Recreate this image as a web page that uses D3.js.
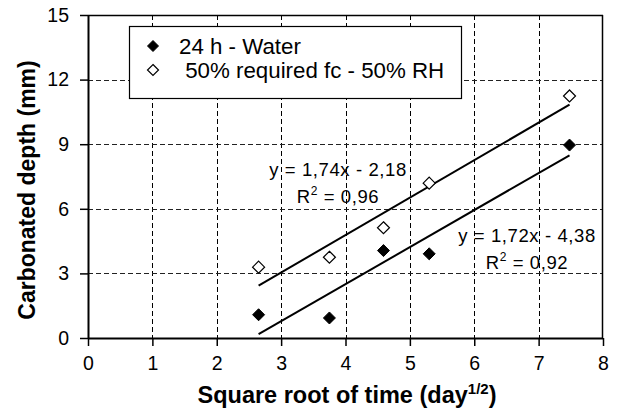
<!DOCTYPE html>
<html>
<head>
<meta charset="utf-8">
<script src="https://cdn.jsdelivr.net/npm/d3@7"></script>
<style>
  html, body { margin: 0; padding: 0; background: #fff; }
  svg { display: block; }
  text { font-family: "Liberation Sans", Arial, sans-serif; fill: #000; }
</style>
</head>
<body>
<svg id="chart" width="621" height="409"></svg>
<script>
// ---- data ----
const xTickValues = [0, 1, 2, 3, 4, 5, 6, 7, 8];
const yTickValues = [0, 3, 6, 9, 12, 15];
const sqrtTime = [2.65, 3.75, 4.59, 5.30, 7.48];
const depthWater = [1.08, 0.93, 4.06, 3.91, 8.96];
const depthRH = [3.29, 3.75, 5.12, 7.19, 11.24];
const seriesNames = ["24 h - Water", " 50% required fc - 50% RH"];
const trendSlopes = [1.72, 1.74];
const trendIntercepts = [-4.38, -2.18];
const eqLabels = ["y = 1,72x - 4,38", "y = 1,74x - 2,18"];
const r2Labels = ["0,92", "0,96"];
const xTitle = "Square root of time (day";
const xTitleSup = "1/2";
const yTitle = "Carbonated depth (mm)";

// ---- layout ----
const pLeft = 88, pRight = 603, pTop = 15, pBottom = 338;
const svg = d3.select("#chart");

const x = d3.scaleLinear().domain([0, 8]).range([pLeft, pRight]);
const y = d3.scaleLinear().domain([0, 15]).range([pBottom, pTop]);

// gridlines
const grid = svg.append("g");
grid.selectAll("line.v").data(xTickValues.filter(d => d > 0 && d < 8)).join("line")
  .attr("x1", d => Math.round(x(d)) + 0.5).attr("x2", d => Math.round(x(d)) + 0.5)
  .attr("y1", pTop).attr("y2", pBottom)
  .attr("stroke", "#000").attr("stroke-width", 1).attr("stroke-dasharray", "5,3");
grid.selectAll("line.h").data(yTickValues.filter(d => d > 0 && d < 15)).join("line")
  .attr("x1", pLeft).attr("x2", pRight)
  .attr("y1", d => Math.round(y(d)) + 0.5).attr("y2", d => Math.round(y(d)) + 0.5)
  .attr("stroke", "#222").attr("stroke-width", 1).attr("stroke-dasharray", "5,3");

// frame (top and right)
svg.append("line").attr("x1", pLeft).attr("x2", pRight).attr("y1", pTop + 0.5).attr("y2", pTop + 0.5)
  .attr("stroke", "#000").attr("stroke-width", 1.5);
svg.append("line").attr("x1", pRight - 0.5).attr("x2", pRight - 0.5).attr("y1", pTop).attr("y2", pBottom)
  .attr("stroke", "#000").attr("stroke-width", 1.5);

// axes
const xAxis = d3.axisBottom(x).tickValues(xTickValues).tickSize(8).tickPadding(10)
  .tickFormat(d3.format("d"));
const gx = svg.append("g").attr("transform", `translate(0,${pBottom})`).call(xAxis);
gx.select(".domain").attr("stroke", "#000").attr("stroke-width", 2).attr("d", `M${pLeft},0.5H${pRight}`);
gx.selectAll(".tick line").attr("stroke", "#000").attr("stroke-width", 1.5);
gx.selectAll(".tick text").attr("font-size", 19.5).attr("font-family", "Liberation Sans, Arial").attr("fill", "#000");

const yAxis = d3.axisLeft(y).tickValues(yTickValues).tickSize(8).tickPadding(11)
  .tickFormat(d3.format("d"));
const gy = svg.append("g").attr("transform", `translate(${pLeft},0)`).call(yAxis);
gy.select(".domain").attr("stroke", "#000").attr("stroke-width", 2).attr("d", `M0.5,${pTop}V${pBottom}`);
gy.selectAll(".tick line").attr("stroke", "#000").attr("stroke-width", 1.5);
gy.selectAll(".tick text").attr("font-size", 19.5).attr("font-family", "Liberation Sans, Arial").attr("fill", "#000");

// trendlines
const allSeries = [depthWater, depthRH];
const xExt = d3.extent(sqrtTime);
allSeries.forEach((s, i) => {
  const pts = xExt.map(v => [v, trendSlopes[i] * v + trendIntercepts[i]]);
  svg.append("path")
    .attr("d", d3.line().x(d => x(d[0])).y(d => y(d[1]))(pts))
    .attr("stroke", "#000").attr("stroke-width", 2).attr("fill", "none");
});

// diamond symbol
const diamond = {
  draw(ctx, size) {
    const r = Math.sqrt(size / 2);
    ctx.moveTo(0, -r); ctx.lineTo(r, 0); ctx.lineTo(0, r); ctx.lineTo(-r, 0); ctx.closePath();
  }
};
const sym = d3.symbol().type(diamond).size(2 * 6 * 6);

svg.append("g").selectAll("path").data(sqrtTime.map((t, i) => [t, depthRH[i]])).join("path")
  .attr("d", sym).attr("transform", d => `translate(${x(d[0])},${y(d[1])})`)
  .attr("fill", "#fff").attr("stroke", "#000").attr("stroke-width", 1.2);
svg.append("g").selectAll("path").data(sqrtTime.map((t, i) => [t, depthWater[i]])).join("path")
  .attr("d", sym).attr("transform", d => `translate(${x(d[0])},${y(d[1])})`)
  .attr("fill", "#000").attr("stroke", "#000").attr("stroke-width", 1);

// equation labels
const eqPos = [[527, 242], [338, 176]];
eqLabels.forEach((lab, i) => {
  svg.append("text").attr("x", eqPos[i][0]).attr("y", eqPos[i][1])
    .attr("text-anchor", "middle").attr("font-size", 18.5).attr("letter-spacing", 0.6)
    .text(lab);
  const t = svg.append("text").attr("x", eqPos[i][0]).attr("y", eqPos[i][1] + 27)
    .attr("text-anchor", "middle").attr("font-size", 18.5).attr("letter-spacing", 0.6);
  t.append("tspan").text("R");
  t.append("tspan").attr("font-size", 12).attr("dy", -8).text("2");
  t.append("tspan").attr("dy", 8).text(" = " + r2Labels[i]);
});

// legend
const lg = svg.append("g");
lg.append("rect").attr("x", 129.5).attr("y", 26.5).attr("width", 332).attr("height", 72)
  .attr("fill", "#fff").attr("stroke", "#000").attr("stroke-width", 1.2);
const legSym = d3.symbol().type(diamond).size(2 * 5.5 * 5.5);
const legY = [46, 70];
lg.append("path").attr("d", legSym).attr("transform", `translate(153,${legY[0]})`)
  .attr("fill", "#000").attr("stroke", "#000");
lg.append("path").attr("d", legSym).attr("transform", `translate(153,${legY[1]})`)
  .attr("fill", "#fff").attr("stroke", "#000").attr("stroke-width", 1.2);
seriesNames.forEach((n, i) => {
  lg.append("text").attr("x", 179).attr("y", legY[i] + 7.5).attr("font-size", 22.3)
    .style("white-space", "pre").text(n);
});

// axis titles
const xt = svg.append("text").attr("x", 347).attr("y", 403).attr("text-anchor", "middle")
  .attr("font-size", 23.5).attr("font-weight", "bold");
xt.append("tspan").text(xTitle);
xt.append("tspan").attr("font-size", 15).attr("dy", -9).text(xTitleSup);
xt.append("tspan").attr("dy", 9).text(")");

svg.append("text").attr("transform", "translate(35,190) rotate(-90)").attr("text-anchor", "middle")
  .attr("font-size", 23).attr("font-weight", "bold").text(yTitle);
</script>
</body>
</html>
